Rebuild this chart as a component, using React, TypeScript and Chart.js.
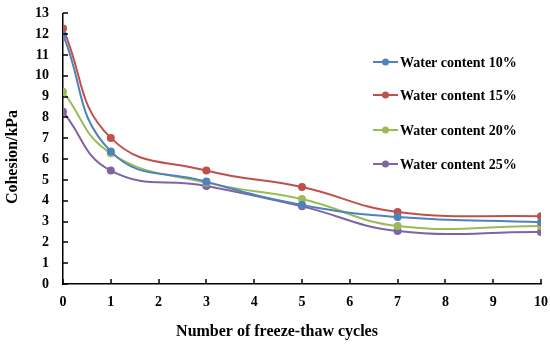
import React, { useEffect, useRef } from "react";
import { Chart, registerables } from "chart.js";

Chart.register(...registerables);

const cycles = [0, 1, 3, 5, 7, 10];
const seriesNames = ["Water content 10%", "Water content 15%", "Water content 20%", "Water content 25%"];
const wc10 = [11.98, 6.37, 4.92, 3.8, 3.22, 2.97];
const wc15 = [12.27, 7.02, 5.45, 4.66, 3.46, 3.25];
const wc20 = [9.24, 6.28, 4.87, 4.08, 2.79, 2.79];
const wc25 = [8.28, 5.45, 4.71, 3.73, 2.55, 2.5];
const colors = ["#4F81BD", "#C0504D", "#9BBB59", "#8064A2"];
const xTitle = "Number of freeze-thaw cycles";
const yTitle = "Cohesion/kPa";

const FONT = "'Liberation Serif', 'Times New Roman', serif";
const OFF_Y = 9;
const W = 558;
const H = 346 + OFF_Y;

export default function App() {
  const ref = useRef<HTMLCanvasElement | null>(null);
  useEffect(() => {
    if (!ref.current) return;
    const all = [wc10, wc15, wc20, wc25];
    const innerTicks = {
      id: "innerTicks",
      afterDatasetsDraw(chart: any) {
        const ctx = chart.ctx;
        const { x, y } = chart.scales;
        const area = chart.chartArea;
        ctx.save();
        ctx.strokeStyle = "#000";
        ctx.lineWidth = 1.5;
        ctx.beginPath();
        for (let v = 0; v <= 10; v++) {
          const px = Math.round(x.getPixelForValue(v));
          ctx.moveTo(px, area.bottom);
          ctx.lineTo(px, area.bottom - 5);
        }
        for (let v = 0; v <= 13; v++) {
          const py = Math.round(y.getPixelForValue(v));
          ctx.moveTo(area.left, py);
          ctx.lineTo(area.left + 5, py);
        }
        ctx.stroke();
        // axis titles
        ctx.fillStyle = "#000";
        ctx.font = `bold 16px ${FONT}`;
        ctx.textAlign = "center";
        ctx.textBaseline = "middle";
        ctx.fillText(xTitle, 277, 332 + OFF_Y);
        ctx.save();
        ctx.translate(13, 157 + OFF_Y);
        ctx.rotate(-Math.PI / 2);
        ctx.fillText(yTitle, 0, 0);
        ctx.restore();
        // legend
        const lx = 373;
        const ys = [62, 95, 130, 164];
        ctx.font = `bold 14px ${FONT}`;
        ctx.textBaseline = "middle";
        ctx.textAlign = "left";
        seriesNames.forEach((n, i) => {
          const yy = ys[i] + OFF_Y;
          ctx.strokeStyle = colors[i];
          ctx.lineWidth = 2;
          ctx.beginPath();
          ctx.moveTo(lx, yy);
          ctx.lineTo(lx + 25, yy);
          ctx.stroke();
          ctx.fillStyle = colors[i];
          ctx.beginPath();
          ctx.arc(lx + 12.5, yy, 3.5, 0, Math.PI * 2);
          ctx.fill();
          ctx.fillStyle = "#000";
          ctx.fillText(n, lx + 27, yy + 1);
        });
        ctx.restore();
      },
    };
    const chart = new Chart(ref.current, {
      type: "line",
      data: {
        datasets: all.map((arr, i) => ({
          label: seriesNames[i],
          data: cycles.map((c, j) => ({ x: c, y: arr[j] })),
          borderColor: colors[i],
          backgroundColor: colors[i],
          borderWidth: 2,
          pointRadius: 4,
          pointBorderWidth: 0,
          tension: 0.45,
          fill: false,
        })),
      },
      options: {
        animation: false,
        responsive: false,
        layout: { padding: 0 },
        plugins: { legend: { display: false }, tooltip: { enabled: false } },
        scales: {
          x: {
            type: "linear",
            min: 0,
            max: 10,
            grid: { display: false, drawTicks: false },
            border: { color: "#000", width: 1.5 },
            ticks: {
              stepSize: 1,
              autoSkip: false,
              maxRotation: 0,
              color: "#000",
              padding: 10,
              font: { family: FONT, size: 14, weight: "bold" },
            },
            afterFit(scale: any) {
              scale.height = 62;
            },
          },
          y: {
            min: 0,
            max: 13,
            grid: { display: false, drawTicks: false },
            border: { color: "#000", width: 1.5 },
            ticks: {
              stepSize: 1,
              autoSkip: false,
              color: "#000",
              padding: 14,
              font: { family: FONT, size: 14, weight: "bold" },
            },
            afterFit(scale: any) {
              scale.width = 63;
            },
          },
        },
      },
      plugins: [innerTicks],
    });
    return () => chart.destroy();
  }, []);
  return (
    <div style={{ position: "fixed", left: 0, top: 0, width: 550, height: 346, overflow: "hidden", background: "#fff" }}>
      <canvas
        ref={ref}
        width={W}
        height={H}
        style={{ position: "absolute", left: 0, top: -OFF_Y, width: W, height: H }}
      />
    </div>
  );
}
